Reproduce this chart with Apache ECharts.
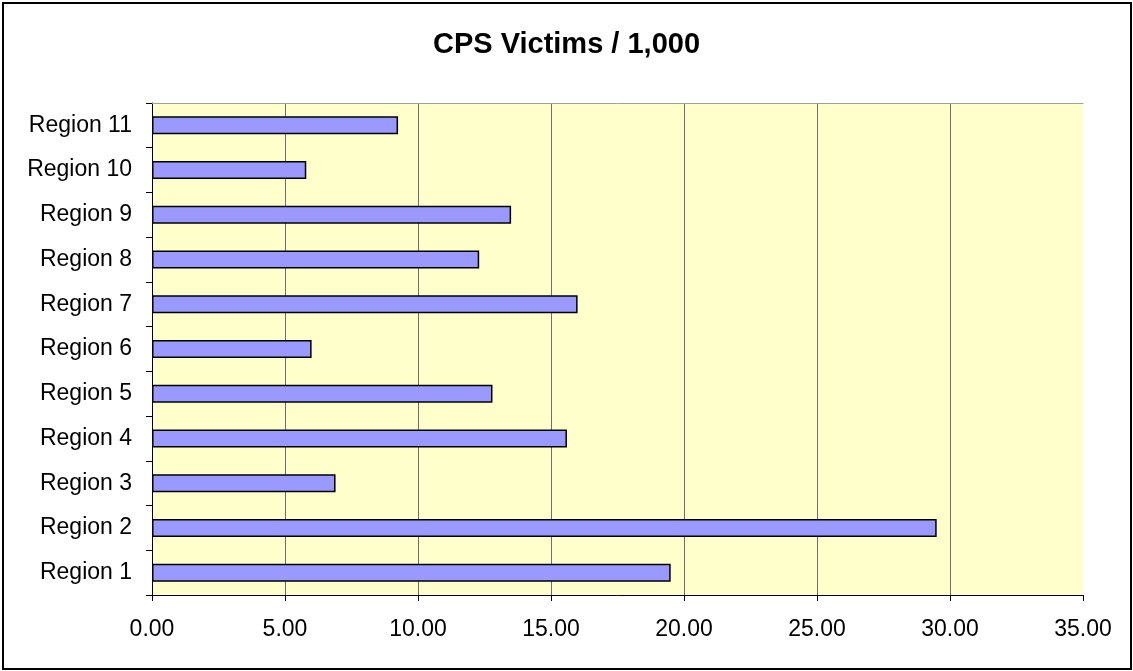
<!DOCTYPE html>
<html>
<head>
<meta charset="utf-8">
<script src="https://cdn.jsdelivr.net/npm/echarts@6/dist/echarts.min.js"></script>
<style>html,body{margin:0;padding:0;background:#fff}#c{width:1133px;height:671px}</style>
</head>
<body>
<div id="c"></div>
<script>
const titleText = 'CPS Victims / 1,000';
const categories = ['Region 1','Region 2','Region 3','Region 4','Region 5','Region 6','Region 7','Region 8','Region 9','Region 10','Region 11'];
const values = [19.5, 29.5, 6.9, 15.6, 12.8, 6.0, 16.0, 12.3, 13.5, 5.8, 9.25];
const xMin = 0, xMax = 35, xStep = 5;

const chart = echarts.init(document.getElementById('c'), null, {renderer: 'canvas'});
chart.setOption({
  animation: false,
  backgroundColor: '#ffffff',
  title: {
    text: titleText, left: 'center', top: 25,
    textStyle: {fontFamily: 'Liberation Sans, Arial', fontSize: 29, fontWeight: 'bold', color: '#000'}
  },
  graphic: [{
    type: 'rect', shape: {x: 3, y: 3, width: 1128, height: 666},
    style: {fill: 'none', stroke: '#000', lineWidth: 2}, silent: true, z: 100
  }],
  grid: {
    left: 152, right: 50, top: 103, bottom: 76,
    show: true, backgroundColor: '#FFFFCC', borderWidth: 0
  },
  xAxis: [{
    type: 'value', min: xMin, max: xMax, interval: xStep,
    axisLine: {show: true, lineStyle: {color: '#000', width: 1}},
    axisTick: {show: true, length: 6, lineStyle: {color: '#000'}},
    axisLabel: {
      margin: 23, fontFamily: 'Liberation Sans, Arial', fontSize: 23, color: '#000',
      formatter: v => v.toFixed(2)
    },
    splitLine: {show: true, showMinLine: false, showMaxLine: false, lineStyle: {color: '#707070', width: 1}}
  }, {
    type: 'value', position: 'top', min: xMin, max: xMax, interval: xStep,
    axisLine: {show: true, lineStyle: {color: '#a0a0a0', width: 1}},
    axisTick: {show: false}, axisLabel: {show: false}, splitLine: {show: false}
  }],
  yAxis: {
    type: 'category', data: categories,
    axisLine: {show: true, lineStyle: {color: '#000', width: 1}},
    axisTick: {show: true, length: 6, lineStyle: {color: '#000'}},
    axisLabel: {margin: 20, fontFamily: 'Liberation Sans, Arial', fontSize: 23, color: '#000'}
  },
  series: [{
    type: 'bar', data: values, xAxisIndex: 0, barWidth: 18,
    itemStyle: {color: '#9999FF', borderColor: '#000', borderWidth: 1.5}
  }]
});
</script>
</body>
</html>
